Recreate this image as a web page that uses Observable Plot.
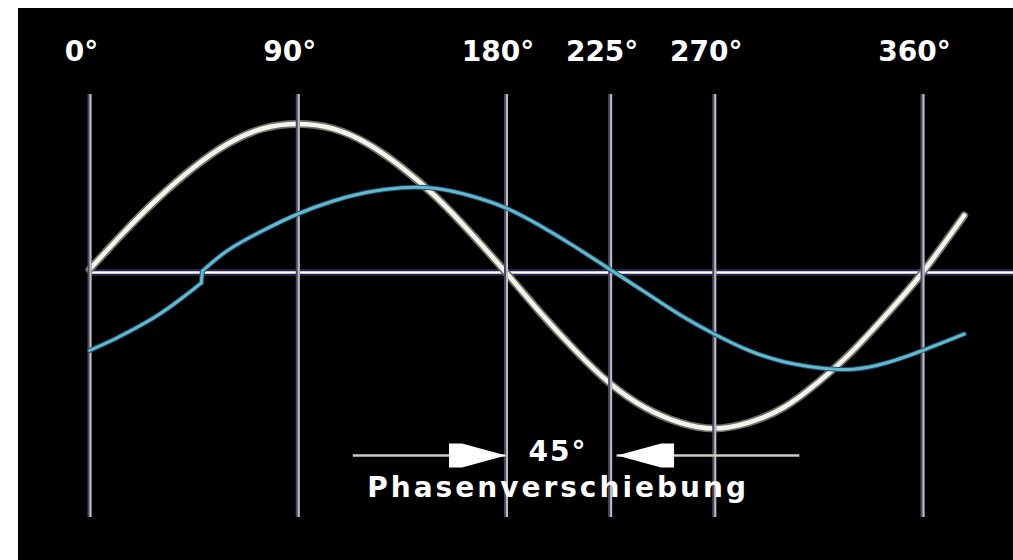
<!DOCTYPE html>
<html>
<head>
<meta charset="utf-8">
<script src="https://cdn.jsdelivr.net/npm/d3@7"></script>
<script src="https://cdn.jsdelivr.net/npm/@observablehq/plot@0.6"></script>
<style>
  html, body { margin: 0; padding: 0; background: #ffffff; }
  #chart { padding: 8px 0 0 18px; }
  #chart svg { display: block; }
</style>
</head>
<body>
<div id="chart"></div>
<script>
// ---- data ----
const degreeTicks = [0, 90, 180, 225, 270, 360];

// bright (reference) wave: phase angle in degrees, amplitude
const whiteDeg = [0, 15, 30, 45, 60, 75, 90, 105, 120, 135, 150, 165, 180, 195, 210, 225, 240, 255, 270, 285, 300, 315, 330, 345, 360, 378];
const whiteVal = [0.02, 0.27, 0.5, 0.7, 0.86, 0.96, 0.99, 0.96, 0.86, 0.7, 0.5, 0.26, 0, -0.27, -0.52, -0.74, -0.9, -1.0, -1.04, -1.0, -0.9, -0.73, -0.52, -0.27, 0, 0.38];

// shifted (blue) wave, drawn in two pieces joined by a small step
const cyanLeftDeg = [0, 10, 20, 30, 40, 48.3];
const cyanLeftVal = [-0.52, -0.45, -0.37, -0.28, -0.17, -0.07];
const cyanRightDeg = [48.8, 60, 75, 90, 105, 120, 135, 150, 165, 180, 195, 210, 225, 240, 255, 270, 285, 300, 315, 330, 345, 360, 378];
const cyanRightVal = [0.01, 0.15, 0.28, 0.39, 0.475, 0.535, 0.565, 0.56, 0.51, 0.43, 0.31, 0.17, 0.02, -0.13, -0.28, -0.41, -0.52, -0.595, -0.635, -0.645, -0.6, -0.52, -0.41];

// phase shift annotation
const shiftLabel = "45°";
const shiftCaption = "Phasenverschiebung";
const arrowFrom = [114, 307];
const arrowTo = [180, 228];

// ---- tables built from the arrays ----
const white = whiteDeg.map((d, i) => ({deg: d, v: whiteVal[i]}));
const cyanLeft = cyanLeftDeg.map((d, i) => ({deg: d, v: cyanLeftVal[i]}));
const cyanRight = cyanRightDeg.map((d, i) => ({deg: d, v: cyanRightVal[i]}));
const cyanStep = [cyanLeft[cyanLeft.length - 1], cyanRight[0]];
const arrows = arrowFrom.map((f, i) => ({from: f, to: arrowTo[i]}));

const gridTop = 1.187, gridBottom = -1.633, arrowY = -1.22;

// filled arrow head, tip at the origin pointing right
const arrowHead = {
  draw(context) {
    context.moveTo(0, 0);
    context.lineTo(-44, -12);
    context.lineTo(-57, -12);
    context.lineTo(-57, 12);
    context.lineTo(-44, 12);
    context.closePath();
  }
};

const boldFont = "'DejaVu Sans', 'Liberation Sans', sans-serif";

const cyanMarks = (stroke, strokeWidth) => [
  Plot.line(cyanLeft, {x: "deg", y: "v", curve: "natural", stroke, strokeWidth}),
  Plot.line(cyanStep, {x: "deg", y: "v", curve: "linear", stroke, strokeWidth}),
  Plot.line(cyanRight, {x: "deg", y: "v", curve: "natural", stroke, strokeWidth})
];

const chart = Plot.plot({
  width: 995,
  height: 552,
  marginLeft: 71,
  marginRight: 91,
  marginTop: 114,
  marginBottom: 138,
  style: {background: "#000000", color: "#ffffff", overflow: "visible"},
  x: {domain: [0, 360]},
  y: {domain: [-1, 1], axis: null},
  marks: [
    Plot.ruleY([0], {x1: 0, x2: 400, stroke: "#23234a", strokeWidth: 7}),
    Plot.ruleY([0], {x1: 0, x2: 400, stroke: "#ffffff", strokeWidth: 2.5}),
    Plot.line(white, {x: "deg", y: "v", curve: "natural", stroke: "#6f6f62", strokeWidth: 8}),
    Plot.line(white, {x: "deg", y: "v", curve: "natural", stroke: "#f4f4ee", strokeWidth: 4.5}),
    Plot.ruleX(degreeTicks, {y1: gridTop, y2: gridBottom, stroke: "#4a4a66", strokeWidth: 4}),
    Plot.ruleX(degreeTicks, {y1: gridTop, y2: gridBottom, stroke: "#bdbdc2", strokeWidth: 2, dx: 1}),
    ...cyanMarks("#2a4870", 5),
    ...cyanMarks("#5cbccb", 3),
    Plot.ruleY(arrows, {y: arrowY, x1: "from", x2: "to", stroke: "#c9d0c2", strokeWidth: 2.5}),
    Plot.dot(arrows, {x: "to", y: arrowY, symbol: arrowHead, r: 10, fill: "#ffffff", rotate: d => (d.to > d.from ? 0 : 180)}),
    Plot.text([shiftLabel], {x: 202.5, y: -1.2, text: d => d, fill: "#ffffff", fontSize: 28, fontWeight: "bold", fontFamily: boldFont}),
    Plot.text([shiftCaption], {x: 202.5, y: -1.44, text: d => d, fill: "#ffffff", fontSize: 28, fontWeight: "bold", fontFamily: boldFont}),
    Plot.axisX(degreeTicks, {anchor: "top", tickSize: 0, tickPadding: 62, tickFormat: d => d + "°", fill: "#ffffff", fontSize: 28, fontWeight: "bold", fontFamily: boldFont, dx: -8, label: null})
  ]
});

d3.select(chart).selectAll("text").filter(function () { return this.textContent === shiftLabel; }).attr("letter-spacing", 2);
d3.select(chart).selectAll("text").filter(function () { return this.textContent === shiftCaption; }).attr("letter-spacing", 3);

document.getElementById("chart").append(chart);
</script>
</body>
</html>
